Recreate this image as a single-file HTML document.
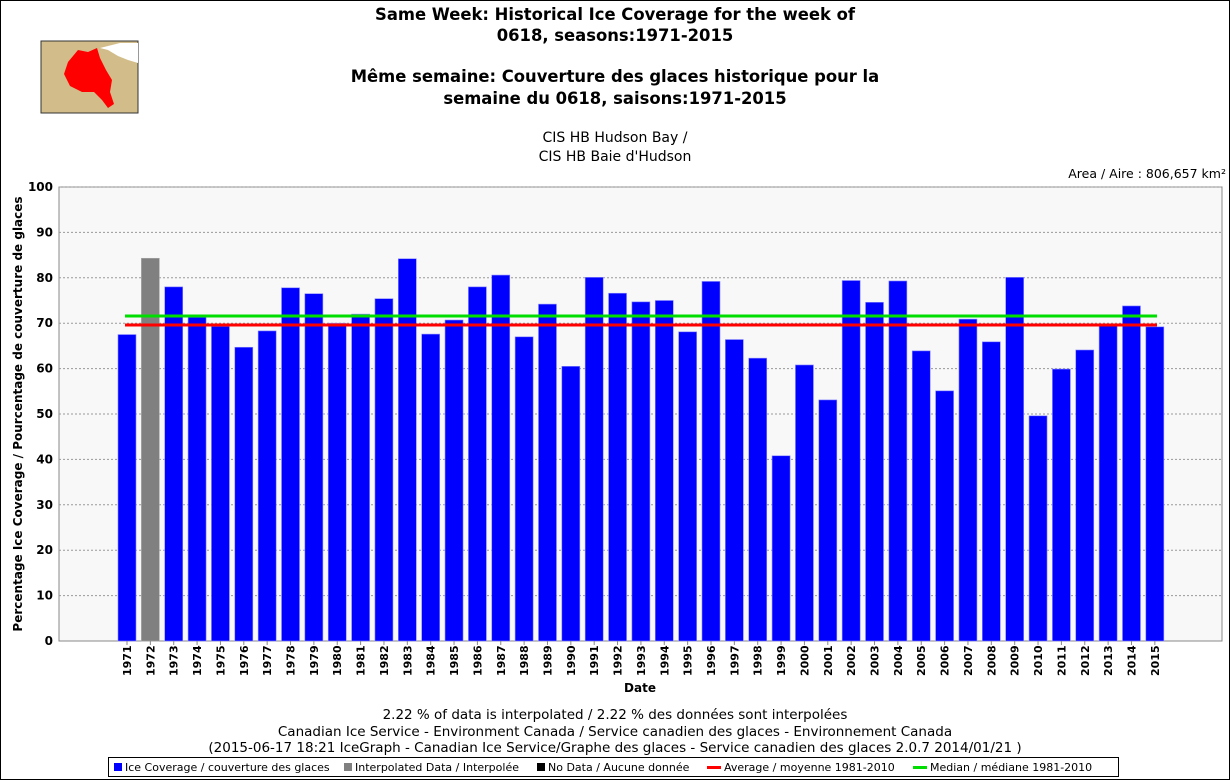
<!DOCTYPE html><html><head><meta charset="utf-8"><style>body{margin:0}svg{display:block}</style></head><body>
<svg width="1230" height="780" xmlns="http://www.w3.org/2000/svg" font-family="DejaVu Sans, sans-serif">
<rect x="0.5" y="0.5" width="1229" height="779" fill="#fff" stroke="#000"/>
<rect x="41" y="41" width="97" height="72" fill="#d2bd8a" stroke="#333"/>
<path d="M120 43 L138 43 L138 63 L128 60 L118 56 L108 50 L100 48 Z" fill="#fff"/>
<path d="M78 50 L88 52 L97 48 L100 58 L106 70 L112 80 L110 92 L114 104 L108 108 L102 100 L94 92 L82 92 L70 86 L64 74 L68 62 Z" fill="#f00"/>
<g font-weight="bold" font-size="16.4" text-anchor="middle" fill="#000">
<text x="615" y="20">Same Week: Historical Ice Coverage for the week of</text>
<text x="615" y="41">0618, seasons:1971-2015</text>
<text x="615" y="82">Même semaine: Couverture des glaces historique pour la</text>
<text x="615" y="104">semaine du 0618, saisons:1971-2015</text>
</g>
<g font-size="14" text-anchor="middle"><text x="615" y="142">CIS HB Hudson Bay /</text><text x="615" y="161">CIS HB Baie d'Hudson</text></g>
<text x="1226" y="178" font-size="12.5" text-anchor="end">Area / Aire : 806,657 km²</text>
<rect x="59" y="187" width="1163" height="454" fill="#f8f8f8" stroke="#888"/>
<g id="grid" stroke="#999" stroke-dasharray="2,2"></g>
<g id="bars"></g>
<line x1="125" y1="325" x2="1157" y2="325" stroke="#f00" stroke-width="3"/>
<line x1="125" y1="316" x2="1157" y2="316" stroke="#0d0" stroke-width="3"/>
<g id="ylab" font-size="12" font-weight="bold" text-anchor="end"></g>
<g id="xlab" font-size="11" font-weight="bold"></g>
<text transform="translate(22,414) rotate(-90)" font-size="12" font-weight="bold" text-anchor="middle">Percentage Ice Coverage / Pourcentage de couverture de glaces</text>
<text x="640" y="692" font-size="12" font-weight="bold" text-anchor="middle">Date</text>
<g font-size="13.5" text-anchor="middle"><text x="615" y="719">2.22 % of data is interpolated / 2.22 % des données sont interpolées</text>
<text x="615" y="736">Canadian Ice Service - Environment Canada / Service canadien des glaces - Environnement Canada</text>
<text x="615" y="752">(2015-06-17 18:21 IceGraph - Canadian Ice Service/Graphe des glaces - Service canadien des glaces 2.0.7 2014/01/21 )</text></g>
<rect x="108.5" y="757.5" width="1010" height="19" fill="#fff" stroke="#000"/>
<g font-size="11">
<rect x="114" y="763" width="8" height="8" fill="#00f"/><text x="125" y="771">Ice Coverage / couverture des glaces</text>
<rect x="344" y="763" width="8" height="8" fill="#808080"/><text x="355" y="771">Interpolated Data / Interpolée</text>
<rect x="537" y="763" width="8" height="8" fill="#000"/><text x="548" y="771">No Data / Aucune donnée</text>
<rect x="707" y="766" width="14" height="3" fill="#f00"/><text x="724" y="771">Average / moyenne 1981-2010</text>
<rect x="913" y="766" width="14" height="3" fill="#0d0"/><text x="930" y="771">Median / médiane 1981-2010</text>
</g>
</svg>
<script>
const v=[67.5,84.3,78,71.3,69.3,64.7,68.3,77.8,76.5,70,72,75.4,84.2,67.6,70.7,78,80.6,67,74.2,60.5,80.1,76.6,74.7,75,68.1,79.2,66.4,62.3,40.8,60.8,53.1,79.4,74.6,79.3,63.9,55.1,70.9,65.9,80.1,49.6,59.9,64.1,69.5,73.8,69.2];
const NS="http://www.w3.org/2000/svg";
function el(p,t,a,txt){const e=document.createElementNS(NS,t);for(const k in a)e.setAttribute(k,a[k]);if(txt)e.textContent=txt;document.getElementById(p).appendChild(e);}
for(let i=1;i<=10;i++){const y=641-i*45.4;el('grid','line',{x1:59,x2:1222,y1:y,y2:y});}
for(let i=0;i<=10;i++){el('ylab','text',{x:53,y:641-i*45.4+4},String(i*10));}
v.forEach((d,i)=>{const c=127+i*23.36,h=d*4.54;
el('bars','rect',{x:c-9,y:641-h,width:18,height:h,fill:i==1?'#808080':'#00f',stroke:i==1?'#aaa':'#88f','stroke-width':0.6});
el('bars','line',{x1:c,x2:c,y1:641,y2:645,stroke:'#888'});
el('xlab','text',{transform:`translate(${c+4},676) rotate(-90)`},String(1971+i));});
</script>
</body></html>
